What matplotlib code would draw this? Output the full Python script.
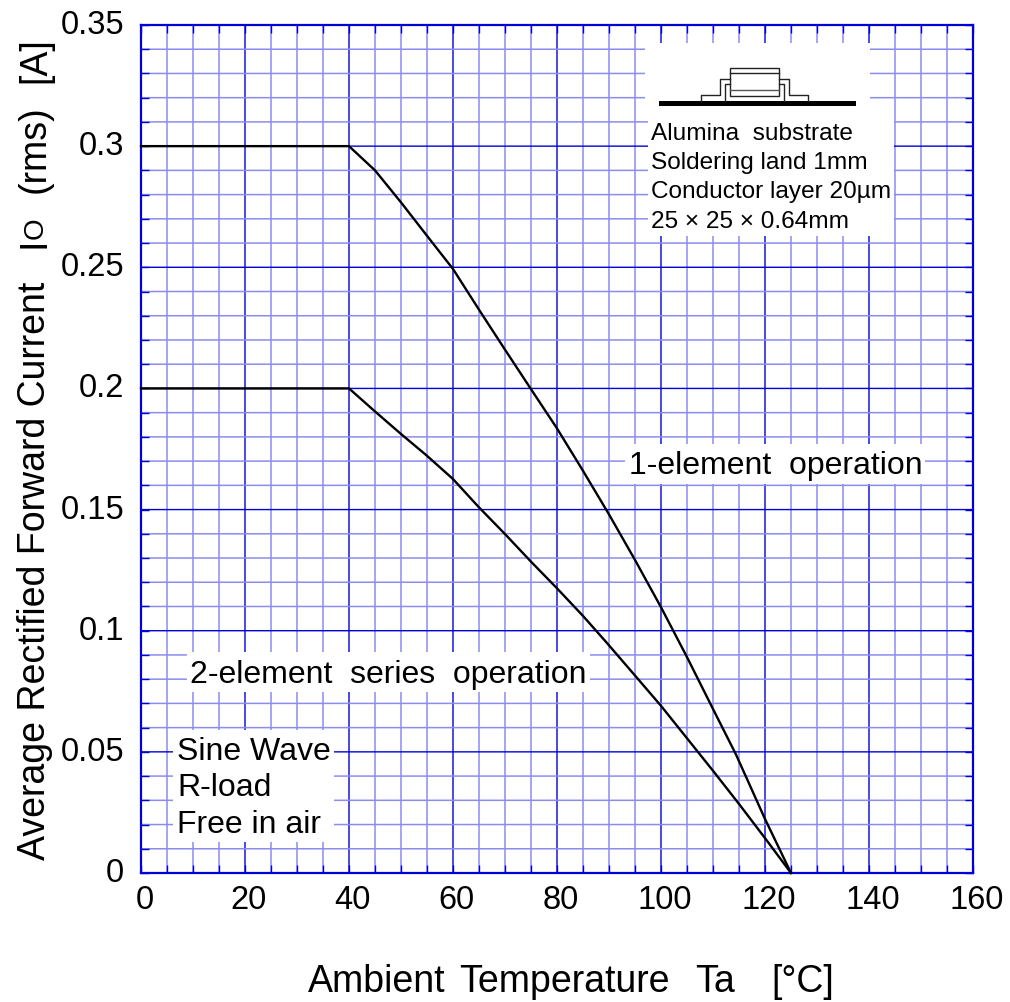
import matplotlib
matplotlib.use('Agg')
import matplotlib.pyplot as plt
from matplotlib.patches import Rectangle
from matplotlib.ticker import MultipleLocator
from matplotlib.transforms import ScaledTranslation

plt.rcParams['font.family'] = ['Liberation Sans', 'DejaVu Sans']

# derating curves
temp_1el = [0, 40, 45, 50, 55, 60, 65, 70, 75, 80, 85, 90, 95, 100, 105, 110, 114.4, 120, 125]
cur_1el = [0.3, 0.3, 0.29, 0.2768, 0.263, 0.2493, 0.2325, 0.216, 0.1997, 0.1835, 0.166,
           0.148, 0.1292, 0.1097, 0.0891, 0.0677, 0.049, 0.0223, 0]
temp_2el = [0, 40, 45, 50, 55, 60, 65, 70, 75, 80, 85, 89.5, 95, 100, 105, 110, 115, 120, 125]
cur_2el = [0.2, 0.2, 0.1905, 0.1812, 0.1722, 0.1626, 0.1509, 0.1399, 0.1285, 0.1175, 0.1061,
           0.0952, 0.0815, 0.069, 0.0556, 0.0422, 0.0285, 0.0144, 0]

xticks = [0, 20, 40, 60, 80, 100, 120, 140, 160]
yticks = [0, 0.05, 0.1, 0.15, 0.2, 0.25, 0.3, 0.35]
ylabels = ['0', '0.05', '0.1', '0.15', '0.2', '0.25', '0.3', '0.35']

W, H = 1010, 1003
BLUE = '#0000d8'
LIGHT = '#8c8cf0'

fig = plt.figure(figsize=(W / 100, H / 100), dpi=100)
ax = fig.add_axes([141 / W, 1 - 874 / H, (973 - 141) / W, (874 - 26) / H])
ax.set_xlim(0, 160)
ax.set_ylim(0, 0.35)
ax.set_xticks(xticks)
ax.set_yticks(yticks)
ax.set_yticklabels(ylabels)
ax.xaxis.set_minor_locator(MultipleLocator(5))
ax.yaxis.set_minor_locator(MultipleLocator(0.01))
ax.grid(which='minor', color=LIGHT, lw=1.1, zorder=0)
ax.grid(which='major', color=BLUE, lw=1.0, zorder=0)
# soft lines like the scanned original
for axis in (ax.xaxis, ax.yaxis):
    for t in axis.get_major_ticks() + axis.get_minor_ticks():
        t.gridline.set_snap(False)
ax.tick_params(which='major', direction='in', length=6, width=1, color=BLUE,
               labelsize=23.5, top=True, right=True)
ax.tick_params(which='minor', direction='in', length=6, width=1, color=BLUE,
               top=True, right=True)
ax.tick_params(axis='y', pad=12)
ax.tick_params(axis='x', pad=8)
for s in ax.spines.values():
    s.set_color(BLUE)
    s.set_linewidth(1.6)
ax.set_axisbelow(True)
# tick labels are a little off their ticks in the original
for lab in ax.get_yticklabels():
    lab.set_transform(lab.get_transform() + ScaledTranslation(0, 4 / 100, fig.dpi_scale_trans))
for lab in ax.get_xticklabels():
    lab.set_transform(lab.get_transform() + ScaledTranslation(3.5 / 100, 0, fig.dpi_scale_trans))

# overlay in pixel units for the white label boxes and the package sketch
ov = fig.add_axes([0, 0, 1, 1], facecolor='none')
ov.set_xlim(0, W)
ov.set_ylim(H, 0)
ov.axis('off')

boxes = [(645, 44, 225, 73), (648, 117, 246, 120), (173, 731, 161, 112),
         (187, 653, 403, 40), (625, 445, 300, 40)]
for x, y, w, h in boxes:
    ov.add_patch(Rectangle((x, y), w, h, fc='white', ec='none', zorder=1))

ov.add_patch(Rectangle((659, 102), 197, 5, fc='black', ec='none', zorder=3))
ov.add_patch(Rectangle((730, 69), 49, 28, fc='none', ec='#222222', lw=1, zorder=3))
ov.plot([730, 779], [74, 74], color='#222222', lw=1, zorder=3)
ov.plot([730, 779], [91, 91], color='#555555', lw=1, zorder=3)
ov.plot([701, 701, 720, 720, 730], [102, 96, 96, 80, 80], color='#222222', lw=1, zorder=3)
ov.plot([725, 725, 730], [102, 85, 85], color='#222222', lw=1, zorder=3)
ov.plot([808, 808, 789, 789, 779], [102, 96, 96, 80, 80], color='#222222', lw=1, zorder=3)
ov.plot([784, 784, 779], [102, 85, 85], color='#222222', lw=1, zorder=3)

# the curves go over the boxes
cv = fig.add_axes(ax.get_position(), facecolor='none')
cv.set_xlim(0, 160)
cv.set_ylim(0, 0.35)
cv.axis('off')
cv.plot(temp_1el, cur_1el, color='black', lw=1.7, clip_on=False)
cv.plot(temp_2el, cur_2el, color='black', lw=1.7, clip_on=False)

tx = fig.add_axes([0, 0, 1, 1], facecolor='none')
tx.set_xlim(0, W)
tx.set_ylim(H, 0)
tx.axis('off')
tx.text(651, 134, 'Alumina  substrate', fontsize=17.6, va='center')
tx.text(651, 163, 'Soldering land 1mm', fontsize=17.6, va='center')
tx.text(651, 192, 'Conductor layer 20µm', fontsize=17.6, va='center')
tx.text(651, 222, '25 × 25 × 0.64mm', fontsize=17.6, va='center')
tx.text(629, 466, '1-element  operation', fontsize=23, va='center')
tx.text(190, 675, '2-element  series  operation', fontsize=23, va='center')
tx.text(177, 752, 'Sine Wave', fontsize=23, va='center')
tx.text(177, 788, 'R-load', fontsize=23, va='center')
tx.text(177, 825, 'Free in air', fontsize=23, va='center')

# axis titles are set in pieces, the gaps in the original are uneven
for x, s in zip([308, 459, 695, 771], ['Ambient', 'Temperature', 'Ta', '[°C]']):
    tx.text(x, 992, s, fontsize=27, va='baseline')
for y, s in zip([860, 248, 193, 83], ['Average Rectified Forward Current', 'I', '(rms)', '[A]']):
    tx.text(45, y, s, fontsize=27, rotation=90, rotation_mode='anchor', ha='left', va='baseline')
tx.text(42.5, 239, 'O', fontsize=20, rotation=90, rotation_mode='anchor', ha='left', va='baseline')

fig.savefig('out.png', dpi=100)
